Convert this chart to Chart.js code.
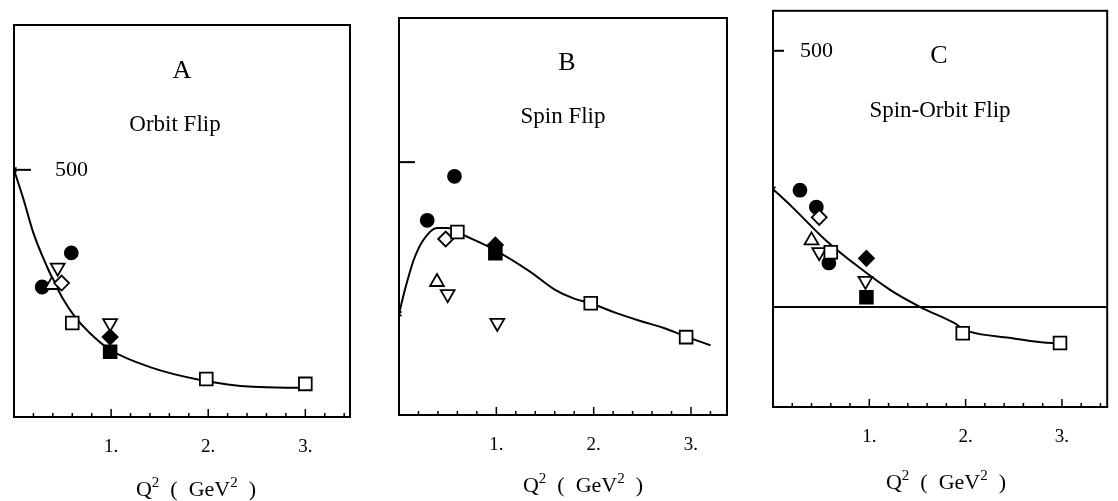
<!DOCTYPE html>
<html lang="en">
<head>
<meta charset="UTF-8">
<title>Helicity amplitudes vs Q2</title>
<script src="https://cdn.jsdelivr.net/npm/chart.js"></script>
<style>
  body { margin: 0; background: #fff; width: 1118px; height: 501px; overflow: hidden; }
  canvas { position: absolute; top: 0; }
</style>
</head>
<body>
<canvas id="chartA" width="372" height="501" style="left:0px"></canvas>
<canvas id="chartB" width="373" height="501" style="left:372px"></canvas>
<canvas id="chartC" width="373" height="501" style="left:745px"></canvas>

<script>
// Q^2 axis (GeV^2)
const q2Ticks = [1, 2, 3];
const q2MinorStep = 0.2;
const ampTick = 500;

// Panel A: orbit flip   [Q^2, amplitude]
const orbitCurve = [[0,500],[0.1,439],[0.2,372],[0.34,304],[0.42,271],[0.51,237],[0.63,202],[0.78,170],[0.99,136],[1.4,101],[1.92,75],[2.46,61],[2.95,59]];
const orbitFilledCircle = [[0.29,263],[0.59,332]];
const orbitOpenDiamond = [[0.49,271]];
const orbitOpenSquare = [[0.6,190],[1.98,77],[3.0,67]];
const orbitFilledDiamond = [[0.99,162]];
const orbitFilledSquare = [[0.99,132]];
const orbitUpTriangle = [[0.39,267]];
const orbitDownTriangle = [[0.45,302],[0.99,190]];

// Panel B: spin flip
const spinCurve = [[0,200],[0.06,247],[0.15,306],[0.25,346],[0.39,370],[0.5,370],[0.66,356],[0.95,330],[1.35,283],[1.6,248],[1.8,230],[1.97,221],[2.2,204],[2.48,186],[2.72,172],[2.95,155],[3.2,138]];
const spinFilledCircle = [[0.29,385],[0.57,472]];
const spinOpenDiamond = [[0.48,348]];
const spinOpenSquare = [[0.6,362],[1.97,221],[2.95,154]];
const spinFilledDiamond = [[0.99,336]];
const spinFilledSquare = [[0.99,320]];
const spinUpTriangle = [[0.39,263]];
const spinDownTriangle = [[0.5,239],[1.01,182]];

// Panel C: spin-orbit flip
const soCurve = [[0,230],[0.2,195],[0.55,130],[0.89,78],[1.22,33],[1.53,0],[1.88,-31],[1.97,-42],[2.04,-48],[2.45,-60],[2.9,-70],[2.98,-70]];
const soFilledCircle = [[0.28,228],[0.45,195],[0.58,86]];
const soOpenDiamond = [[0.48,175]];
const soOpenSquare = [[0.6,107],[1.97,-51],[2.98,-70]];
const soFilledDiamond = [[0.97,95]];
const soFilledSquare = [[0.97,19]];
const soUpTriangle = [[0.4,130]];
const soDownTriangle = [[0.48,107],[0.96,51]];

const SERIF = '"Liberation Serif", "Times New Roman", serif';
Chart.defaults.font.family = SERIF;
Chart.defaults.color = '#000';

const toXY = arr => arr.map(p => ({ x: p[0], y: p[1] }));

function markerSet(data, style, r, filled, rotation) {
  return {
    data: toXY(data),
    pointStyle: style,
    pointRadius: r,
    pointRotation: rotation || 0,
    pointBackgroundColor: filled ? '#000' : '#fff',
    pointBorderColor: '#000',
    pointBorderWidth: 1.8,
    showLine: false,
    order: 1
  };
}

function curveSet(data) {
  return {
    data: toXY(data),
    showLine: true,
    borderColor: '#000',
    borderWidth: 2,
    cubicInterpolationMode: 'monotone',
    pointStyle: 'crossRot',
    pointRadius: c => c.dataIndex === 0 ? 3.5 : 0,
    pointBorderColor: '#000',
    pointBorderWidth: 1.5,
    order: 2
  };
}

// frame, inner ticks, zero line and panel captions
const framePlugin = {
  id: 'panelFrame',
  beforeDatasetsDraw(chart, args, opts) {
    const { ctx, chartArea: a, scales: { x, y } } = chart;
    ctx.save();
    ctx.strokeStyle = '#000';
    ctx.lineWidth = 2;
    ctx.strokeRect(a.left, a.top, a.right - a.left, a.bottom - a.top);

    // x ticks pointing into the plot
    ctx.lineWidth = 1.5;
    for (let i = 1; i * q2MinorStep < x.max; i++) {
      const px = x.getPixelForValue(i * q2MinorStep);
      const len = i % 5 === 0 ? 8 : 4;
      ctx.beginPath();
      ctx.moveTo(px, a.bottom);
      ctx.lineTo(px, a.bottom - len);
      ctx.stroke();
    }

    // amplitude tick
    const py = y.getPixelForValue(ampTick);
    ctx.lineWidth = 2;
    ctx.beginPath();
    ctx.moveTo(a.left, py);
    ctx.lineTo(a.left + opts.tickLen, py);
    ctx.stroke();

    if (opts.zeroLine) {
      const pz = y.getPixelForValue(0);
      ctx.beginPath();
      ctx.moveTo(a.left, pz);
      ctx.lineTo(a.right, pz);
      ctx.stroke();
    }
    ctx.restore();
  },
  afterDraw(chart, args, opts) {
    const ctx = chart.ctx;
    ctx.save();
    ctx.fillStyle = '#000';
    ctx.textAlign = 'center';
    ctx.textBaseline = 'alphabetic';
    ctx.font = '26px ' + SERIF;
    ctx.fillText(opts.letter, opts.letterPos[0], opts.letterPos[1]);
    ctx.font = '23px ' + SERIF;
    ctx.fillText(opts.caption, opts.captionPos[0], opts.captionPos[1]);

    // axis title  Q^2 ( GeV^2 )
    const parts = [['Q', 22, 0], ['2', 15, -9], ['  (  GeV', 22, 0], ['2', 15, -9], ['  )', 22, 0]];
    let w = 0;
    parts.forEach(p => { ctx.font = p[1] + 'px ' + SERIF; w += ctx.measureText(p[0]).width; });
    let cx = opts.titlePos[0] - w / 2;
    ctx.textAlign = 'left';
    parts.forEach(p => {
      ctx.font = p[1] + 'px ' + SERIF;
      ctx.fillText(p[0], cx, opts.titlePos[1] + p[2]);
      cx += ctx.measureText(p[0]).width;
    });
    ctx.restore();
  }
};

function buildChart(id, p) {
  return new Chart(document.getElementById(id), {
    type: 'scatter',
    data: {
      datasets: [
        curveSet(p.curve),
        markerSet(p.openSquare, 'rect', 9, false),
        markerSet(p.openDiamond, 'rectRot', 7.5, false),
        markerSet(p.upTriangle, 'triangle', 8, false),
        markerSet(p.downTriangle, 'triangle', 8, false, 180),
        markerSet(p.filledSquare, 'rect', 9, true),
        markerSet(p.filledDiamond, 'rectRot', 7.5, true),
        markerSet(p.filledCircle, 'circle', 6.5, true)
      ]
    },
    options: {
      responsive: false,
      animation: false,
      events: [],
      layout: { padding: { left: p.pad[0], top: p.pad[1], right: p.pad[2], bottom: 0 } },
      plugins: {
        legend: { display: false },
        tooltip: { enabled: false },
        panelFrame: p.frame
      },
      scales: {
        x: {
          type: 'linear',
          min: 0,
          max: p.xMax,
          grid: { display: false, drawTicks: false },
          border: { display: false },
          afterBuildTicks: s => { s.ticks = q2Ticks.map(v => ({ value: v })); },
          afterFit: s => { s.height = p.xAxisHeight; },
          ticks: { callback: v => v + '.', padding: 19, autoSkip: false, maxRotation: 0, font: { size: 19 } }
        },
        y: {
          type: 'linear',
          min: p.yMin,
          max: p.yMax,
          grid: { display: false, drawTicks: false },
          border: { display: false },
          afterBuildTicks: s => { s.ticks = [{ value: ampTick }]; },
          // mirrored label sits inside the frame, so the axis takes no room
          afterFit: s => { s.width = 0; s.paddingTop = 0; s.paddingBottom = 0; },
          ticks: { mirror: true, padding: p.labelPad, callback: v => p.showLabel ? String(v) : '', font: { size: 22 } }
        }
      }
    },
    plugins: [framePlugin]
  });
}

buildChart('chartA', {
  curve: orbitCurve, filledCircle: orbitFilledCircle, openDiamond: orbitOpenDiamond,
  openSquare: orbitOpenSquare, filledDiamond: orbitFilledDiamond, filledSquare: orbitFilledSquare,
  upTriangle: orbitUpTriangle, downTriangle: orbitDownTriangle,
  pad: [14, 25, 22], xAxisHeight: 84, xMax: 3.46, yMin: 0, yMax: 793,
  showLabel: true, labelPad: 41,
  frame: { letter: 'A', letterPos: [182, 78], caption: 'Orbit Flip', captionPos: [175, 131], titlePos: [196, 496], tickLen: 17, zeroLine: false }
});

buildChart('chartB', {
  curve: spinCurve, filledCircle: spinFilledCircle, openDiamond: spinOpenDiamond,
  openSquare: spinOpenSquare, filledDiamond: spinFilledDiamond, filledSquare: spinFilledSquare,
  upTriangle: spinUpTriangle, downTriangle: spinDownTriangle,
  pad: [27, 18, 18], xAxisHeight: 86, xMax: 3.37, yMin: 0, yMax: 785,
  showLabel: false, labelPad: 30,
  frame: { letter: 'B', letterPos: [195, 70], caption: 'Spin Flip', captionPos: [191, 123], titlePos: [211, 492], tickLen: 16, zeroLine: false }
});

buildChart('chartC', {
  curve: soCurve, filledCircle: soFilledCircle, openDiamond: soOpenDiamond,
  openSquare: soOpenSquare, filledDiamond: soFilledDiamond, filledSquare: soFilledSquare,
  upTriangle: soUpTriangle, downTriangle: soDownTriangle,
  pad: [28, 10, 5], xAxisHeight: 94, xMax: 3.47, yMin: -195, yMax: 578,
  showLabel: true, labelPad: 27,
  frame: { letter: 'C', letterPos: [194, 63], caption: 'Spin-Orbit Flip', captionPos: [195, 117], titlePos: [201, 489], tickLen: 11, zeroLine: true }
});
</script>
</body>
</html>
